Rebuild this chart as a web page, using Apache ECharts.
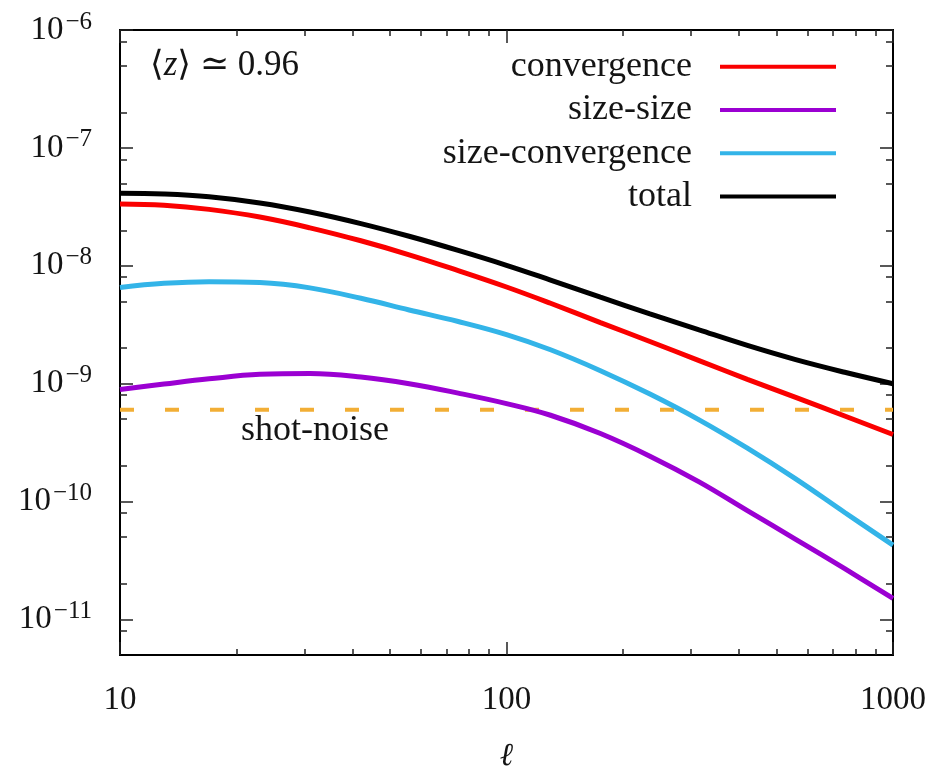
<!DOCTYPE html>
<html>
<head>
<meta charset="utf-8">
<script src="https://cdn.jsdelivr.net/npm/echarts@6/dist/echarts.min.js"></script>
<style>
  html, body { margin: 0; padding: 0; background: #fff; }
  #chart { width: 935px; height: 773px; }
</style>
</head>
<body>
<div id="chart"></div>
<script>
// multipole ell
var ellValues = [10, 13, 17, 23, 31, 42, 56, 75, 100, 130, 175, 235, 315, 420, 560, 750, 1000];

var convergence = [3.35e-8, 3.27e-8, 3.01e-8, 2.59e-8, 2.10e-8, 1.63e-8, 1.24e-8, 9.10e-9, 6.61e-9,
    4.81e-9, 3.30e-9, 2.28e-9, 1.57e-9, 1.09e-9, 7.66e-10, 5.32e-10, 3.71e-10];
var sizeSize = [8.93e-10, 9.93e-10, 1.10e-9, 1.20e-9, 1.22e-9, 1.14e-9, 1.00e-9, 8.32e-10, 6.78e-10,
    5.40e-10, 3.78e-10, 2.43e-10, 1.47e-10, 8.38e-11, 4.79e-11, 2.70e-11, 1.51e-11];
var sizeConvergence = [6.56e-9, 7.10e-9, 7.33e-9, 7.21e-9, 6.50e-9, 5.30e-9, 4.22e-9, 3.37e-9, 2.61e-9,
    1.94e-9, 1.29e-9, 8.17e-10, 4.94e-10, 2.84e-10, 1.56e-10, 8.09e-11, 4.28e-11];
var total = [4.12e-8, 4.06e-8, 3.85e-8, 3.41e-8, 2.86e-8, 2.28e-8, 1.78e-8, 1.35e-8, 1.01e-8,
    7.57e-9, 5.42e-9, 3.92e-9, 2.86e-9, 2.11e-9, 1.60e-9, 1.25e-9, 1.00e-9];
var shotNoise = 6e-10;

var xTickLabels = [10, 100, 1000];
var xMinorMantissas = [2, 3, 4, 5, 6, 7, 8, 9];
var yTickExponents = [-11, -10, -9, -8, -7, -6];
var yMinorMantissas = [2, 5, 8];

var serif = '"Liberation Serif", "DejaVu Serif", serif';
var textColor = '#141414';

var xMin = Math.log10(10), xMax = Math.log10(1000);
var yMin = Math.log10(5e-12), yMax = -6;

function toPoints(vals) {
    return ellValues.map(function (l, i) { return [Math.log10(l), Math.log10(vals[i])]; });
}

// tick positions in log space
var xMajor = xTickLabels.map(function (v) { return Math.log10(v); });
var xMinor = [];
xTickLabels.slice(0, -1).forEach(function (d) {
    xMinorMantissas.forEach(function (m) { xMinor.push(Math.log10(d * m)); });
});
var yMajor = yTickExponents.slice();
var yMinor = [];
[-12].concat(yTickExponents).forEach(function (n) {
    yMinorMantissas.forEach(function (m) {
        var v = n + Math.log10(m);
        if (v > yMin + 0.005 && v < yMax) yMinor.push(v);
    });
});

var gridBox = {left: 120, top: 30, right: 42, bottom: 118, outerBoundsMode: 'none', containLabel: false};

function xAxisCfg(grid, position, ticks, len, withLabels) {
    return {
        type: 'value', gridIndex: grid, position: position, min: xMin, max: xMax,
        axisLine: {show: false},
        splitLine: {show: false},
        axisTick: {show: true, inside: true, length: len, customValues: ticks,
            lineStyle: {color: '#222', width: 1.5}},
        axisLabel: {
            show: withLabels, customValues: xMajor, margin: 29,
            fontFamily: serif, fontSize: 33, color: textColor,
            formatter: function (v) { return String(Math.round(Math.pow(10, v))); }
        },
        name: withLabels ? 'ℓ' : '',
        nameLocation: 'middle', nameGap: 86,
        nameTextStyle: {fontFamily: '"DejaVu Serif", serif', fontStyle: 'italic', fontSize: 32, color: textColor}
    };
}

function yAxisCfg(grid, position, ticks, len, withLabels) {
    return {
        type: 'value', gridIndex: grid, position: position, min: yMin, max: yMax,
        axisLine: {show: false},
        splitLine: {show: false},
        axisTick: {show: true, inside: true, length: len, customValues: ticks,
            lineStyle: {color: '#222', width: 1.5}},
        axisLabel: {
            show: withLabels, customValues: yMajor, margin: 28,
            formatter: function (v) { return '{b|10}{s|−' + Math.abs(Math.round(v)) + '}'; },
            rich: {
                b: {fontFamily: serif, fontSize: 33, lineHeight: 36, color: textColor},
                s: {fontFamily: serif, fontSize: 25, lineHeight: 25, color: textColor, padding: [0, 0, 16, 2]}
            }
        }
    };
}

function curve(name, vals, color) {
    return {
        name: name, type: 'line', data: toPoints(vals),
        smooth: 0.4, showSymbol: false, symbol: 'none',
        itemStyle: {color: color},
        lineStyle: {color: color, width: 5},
        emphasis: {disabled: true}
    };
}

var chart = echarts.init(document.getElementById('chart'));

var option = {
    backgroundColor: '#fff',
    animation: false,
    grid: [
        Object.assign({show: true, borderColor: '#000', borderWidth: 2, backgroundColor: 'transparent'}, gridBox),
        Object.assign({show: false}, gridBox)
    ],
    xAxis: [
        xAxisCfg(0, 'bottom', xMajor, 13, true),
        xAxisCfg(0, 'top', xMajor, 13, false),
        xAxisCfg(1, 'bottom', xMinor, 6, false),
        xAxisCfg(1, 'top', xMinor, 6, false)
    ],
    yAxis: [
        yAxisCfg(0, 'left', yMajor, 13, true),
        yAxisCfg(0, 'right', yMajor, 13, false),
        yAxisCfg(1, 'left', yMinor, 7, false),
        yAxisCfg(1, 'right', yMinor, 7, false)
    ],
    legend: {
        data: ['convergence', 'size-size', 'size-convergence', 'total'],
        orient: 'vertical', right: 94, top: 40, align: 'right',
        icon: 'rect', itemWidth: 116, itemHeight: 4, itemGap: 0,
        selectedMode: false,
        textStyle: {fontFamily: serif, fontSize: 36, color: textColor, lineHeight: 43.3, padding: [0, 23, 0, 0]}
    },
    graphic: [
        {
            type: 'text', x: 150, y: 66,
            style: {
                text: '{n|⟨}{i|z}{n|⟩ ≃ 0.96}',
                verticalAlign: 'middle', align: 'left', fill: textColor,
                rich: {
                    n: {fontFamily: serif, fontSize: 35, fill: textColor},
                    i: {fontFamily: serif, fontStyle: 'italic', fontSize: 35, fill: textColor}
                }
            }
        },
        {
            type: 'text', x: 315, y: 431,
            style: {text: 'shot-noise', font: '36px ' + serif, fill: textColor,
                align: 'center', verticalAlign: 'middle'}
        }
    ],
    series: [
        {
            name: 'shot-noise', type: 'line',
            data: [[xMin, Math.log10(shotNoise)], [xMax, Math.log10(shotNoise)]],
            showSymbol: false, symbol: 'none',
            lineStyle: {color: '#f2ae35', width: 4, type: [14, 31]},
            itemStyle: {color: '#f2ae35'},
            emphasis: {disabled: true}
        },
        curve('convergence', convergence, '#fa0000'),
        curve('size-size', sizeSize, '#9b00d2'),
        curve('size-convergence', sizeConvergence, '#33b4e8'),
        curve('total', total, '#000000')
    ]
};

chart.setOption(option);
</script>
</body>
</html>
